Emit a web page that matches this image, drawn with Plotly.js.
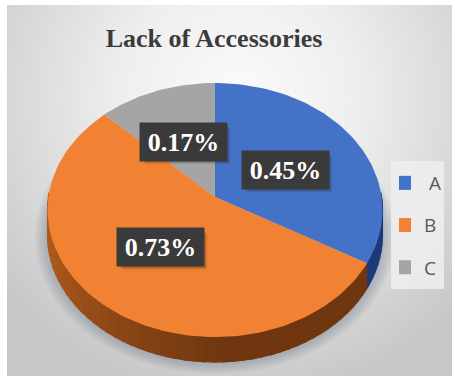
<!DOCTYPE html>
<html>
<head>
<meta charset="utf-8">
<script src="https://cdn.plot.ly/plotly-3.0.1.min.js"></script>
<style>
  html, body { margin: 0; padding: 0; background: #fff; }
  #stage { position: relative; width: 455px; height: 377px; overflow: hidden; }
  #backdrop {
    position: absolute; left: 7px; top: 5px; width: 445px; height: 371px;
    background: radial-gradient(ellipse 300px 300px at 52% 25%, #fbfbfb 0%, #eeeeee 40%, #d8d8d8 75%, #c8c8c8 100%);
  }
  #chart { position: absolute; left: 0; top: 0; width: 455px; height: 377px; }
</style>
</head>
<body>
<div id="stage">
  <div id="backdrop"></div>
  <div id="chart"></div>
</div>
<script>
// Share of respondents per category, in percent
const categories = ['A', 'B', 'C'];
const values = [0.45, 0.73, 0.17];
const sliceColors = ['#4472c6', '#f28233', '#a5a5a5'];
const wallDark = ['#1c3a78', '#6f3610', '#5f5f5f'];
const wallLight = ['#2a4f96', '#ad591c', '#7c7c7c'];
const chartTitle = 'Lack of Accessories';

// Where each value label box is centred on the chart
const labelX = [285.5, 160.5, 183.5];
const labelY = [169.5, 247, 141.5];
const labelW = 85, labelH = 36;

// Tilted-disc projection used for the pie face
const apexX = 215, apexY = 197;
const spreadX = 166.6, spreadY = 125.7, tilt = 0.1024, wallDepth = 25;

function project(deg, drop, grow) {
  const a = deg * Math.PI / 180;
  const u = Math.sin(a), v = -Math.cos(a);
  const d = 1 - tilt * v;
  const g = grow || 1;
  return [apexX + g * spreadX * u / d, apexY + g * spreadY * v / d + (drop || 0)];
}

function arc(from, to, drop, grow) {
  const pts = [];
  const n = Math.max(2, Math.ceil(Math.abs(to - from) / 1.5));
  for (let i = 0; i <= n; i++) pts.push(project(from + (to - from) * i / n, drop, grow));
  return pts;
}

function polygon(pts, color, name) {
  return {
    type: 'scatter', mode: 'lines', fill: 'toself', fillcolor: color,
    x: pts.map(p => p[0]), y: pts.map(p => p[1]),
    line: { color: color, width: 1.2 }, showlegend: false, hoverinfo: 'skip', name: name || ''
  };
}

function mix(c1, c2, t) {
  const ch = (c, i) => parseInt(c.substr(1 + 2 * i, 2), 16);
  const out = [0, 1, 2].map(i => Math.round(ch(c1, i) + (ch(c2, i) - ch(c1, i)) * t));
  return 'rgb(' + out.join(',') + ')';
}

const total = values.reduce((s, v) => s + v, 0);
const traces = [];

// Soft shadow around the base of the disc
for (let k = 7; k >= 1; k--) {
  const ring = arc(0, 360, wallDepth + 1, 1 + k * 0.011);
  traces.push(Object.assign(polygon(ring, 'rgba(95,105,125,0.055)'), { line: { width: 0 } }));
}

// Outer wall, split into short facets so the shading can vary along the rim
let start = 0;
const spans = values.map(v => {
  const s = [start, start + v / total * 360];
  start = s[1];
  return s;
});
spans.forEach((span, i) => {
  const from = Math.max(span[0], 88), to = Math.min(span[1], 272);
  for (let a = from; a < to; a += 3) {
    const b = Math.min(a + 3.5, to);
    const top = arc(a, b, 0);
    const bottom = arc(b, a, wallDepth);
    const t = Math.min(1, Math.max(0, (a - 175) / 75));
    traces.push(polygon(top.concat(bottom), mix(wallDark[i], wallLight[i], t)));
  }
});

// Pie face
spans.forEach((span, i) => {
  const pts = [[apexX, apexY]].concat(arc(span[0], span[1], 0));
  pts.push([apexX, apexY]);
  const t = polygon(pts, sliceColors[i], categories[i]);
  t.line = { color: sliceColors[i], width: 0 };
  traces.push(t);
});

// Legend entries
categories.forEach((c, i) => {
  traces.push({
    type: 'scatter', mode: 'markers', x: [null], y: [null],
    name: i === 0 ? '\u00a0' + c : c, legendgroup: c, hoverinfo: 'skip',
    marker: { symbol: 'square', size: 14, color: sliceColors[i] }
  });
});

// Value labels on dark boxes
const labelFont = { family: '"Liberation Serif", serif', size: 26, color: '#ffffff' };
const annotations = values.map((v, i) => ({
  xref: 'x', yref: 'y', x: labelX[i], y: labelY[i],
  text: '<b>' + v.toFixed(2) + '%</b>', showarrow: false,
  width: labelW, height: labelH, bgcolor: '#3a3a3a', font: labelFont
}));

// Legend panel, then a faint offset rectangle under each label as its drop shadow
const shapes = [{
  type: 'rect', xref: 'x', yref: 'y', x0: 391, x1: 444, y0: 161, y1: 289,
  fillcolor: 'rgba(238,238,238,0.85)', line: { width: 0 }, layer: 'above'
}];
values.forEach((v, i) => {
  [[4, 4.5, 0.14], [2.5, 3, 0.2]].forEach(s => {
    shapes.push({
      type: 'rect', xref: 'x', yref: 'y', layer: 'above',
      x0: labelX[i] - labelW / 2 + s[0], x1: labelX[i] + labelW / 2 + s[0],
      y0: labelY[i] - labelH / 2 + s[1], y1: labelY[i] + labelH / 2 + s[1],
      fillcolor: 'rgba(40,30,20,' + s[2] + ')', line: { width: 0 }
    });
  });
});

const layout = {
  width: 455, height: 377,
  margin: { l: 0, r: 0, t: 0, b: 0 },
  paper_bgcolor: 'rgba(0,0,0,0)', plot_bgcolor: 'rgba(0,0,0,0)',
  title: {
    text: '<b>' + chartTitle + '</b>',
    font: { family: '"Liberation Serif", serif', size: 26, color: '#3b3b3b' },
    x: 214 / 455, xanchor: 'center', y: 1 - 38 / 377, yanchor: 'middle'
  },
  xaxis: { range: [0, 455], visible: false, fixedrange: true },
  yaxis: { range: [377, 0], visible: false, fixedrange: true },
  showlegend: true,
  legend: {
    x: 399 / 455, xanchor: 'left', y: 1 - 164 / 377, yanchor: 'top',
    bgcolor: 'rgba(0,0,0,0)', borderwidth: 0, tracegroupgap: 14.5, itemwidth: 30, indentation: -15,
    font: { family: '"Open Sans", sans-serif', size: 19, color: '#595959' }
  },
  shapes: shapes,
  annotations: annotations
};

Plotly.newPlot('chart', traces, layout, { displayModeBar: false, staticPlot: true });
</script>
</body>
</html>
